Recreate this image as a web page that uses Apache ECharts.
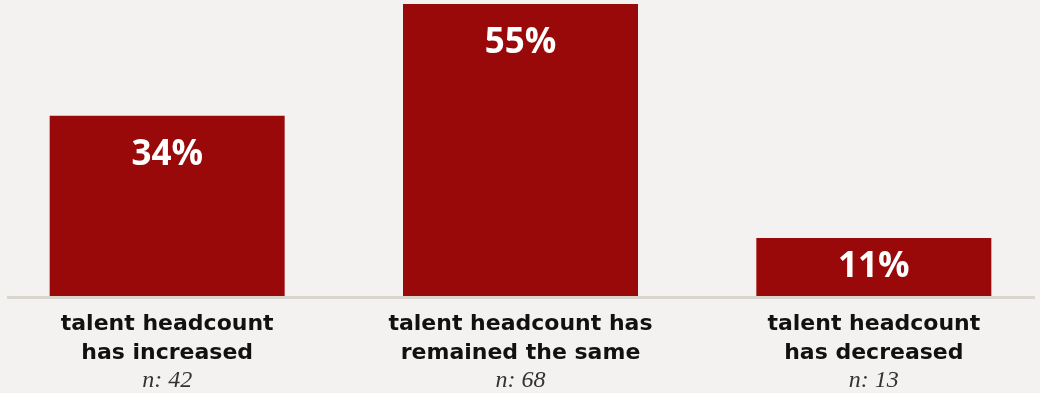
<!DOCTYPE html>
<html>
<head>
<meta charset="utf-8">
<script src="https://cdn.jsdelivr.net/npm/echarts@6/dist/echarts.min.js"></script>
<style>
  html, body { margin: 0; padding: 0; background: #f3f2f0; }
  #chart { width: 1040px; height: 393px; }
</style>
</head>
<body>
<div id="chart"></div>
<script>
// Survey answers: how talent headcount has changed
const categories = [
  'talent headcount\nhas increased',
  'talent headcount has\nremained the same',
  'talent headcount\nhas decreased'
];
const shares = [34, 55, 11];          // percent of respondents
const respondents = [42, 68, 13];     // n per answer

const chart = echarts.init(document.getElementById('chart'));

const option = {
  backgroundColor: '#f3f2f0',
  animation: false,
  grid: {
    left: -9.5, width: 1060, top: 4, bottom: 96.5,
    containLabel: false,
    outerBoundsMode: 'none'
  },
  xAxis: {
    type: 'category',
    data: categories,
    axisLine: { show: false },
    axisTick: { show: false },
    axisLabel: {
      interval: 0,
      margin: 13,
      formatter: function (value, idx) {
        const lines = value.split('\n').map(l => '{b|' + l + '}').join('\n');
        return lines + '\n{n|n: ' + respondents[idx] + '}';
      },
      rich: {
        b: {
          fontFamily: 'DejaVu Sans',
          fontWeight: 'bold',
          fontSize: 22,
          lineHeight: 29,
          color: '#111111'
        },
        n: {
          fontFamily: 'Liberation Serif',
          fontStyle: 'italic',
          fontSize: 24,
          lineHeight: 26,
          color: '#333333'
        }
      }
    }
  },
  yAxis: {
    type: 'value',
    min: 0,
    max: 55,
    show: false,
    splitLine: { show: false }
  },
  graphic: [{
    type: 'line',
    shape: { x1: 7, y1: 297.5, x2: 1035, y2: 297.5 },
    style: { stroke: '#dad6cd', lineWidth: 3 },
    z: 10
  }],
  series: [{
    type: 'bar',
    barWidth: 235,
    data: shares.map(v => ({
      value: v,
      label: v < 20 ? { position: 'inside' } : { position: 'insideTop', distance: 22 }
    })),
    itemStyle: { color: '#990909' },
    label: {
      show: true,
      formatter: '{c}%',
      fontFamily: 'Open Sans',
      fontWeight: 'bold',
      fontSize: 35,
      color: '#ffffff'
    }
  }]
};

chart.setOption(option);
</script>
</body>
</html>
